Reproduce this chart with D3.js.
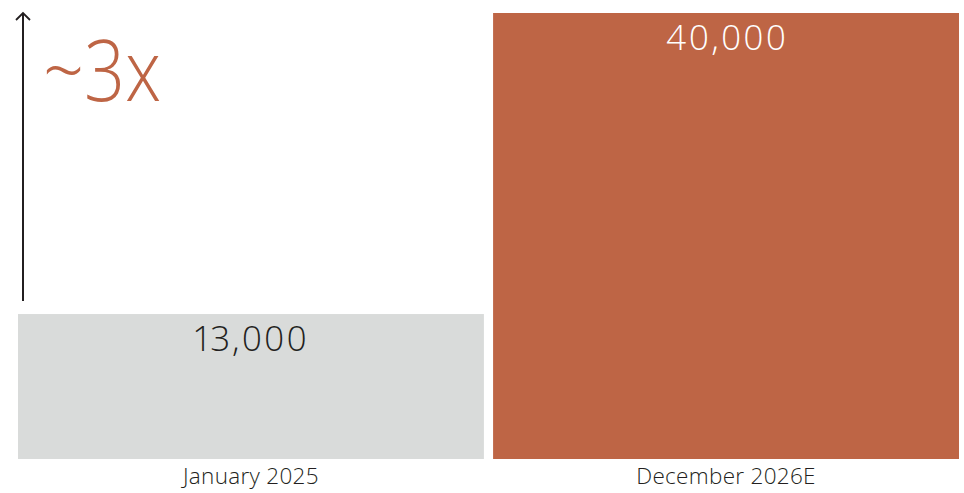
<!DOCTYPE html>
<html>
<head>
<meta charset="utf-8">
<script src="https://cdn.jsdelivr.net/npm/d3@7"></script>
<style>
  html, body { margin: 0; padding: 0; background: #fff; }
  svg { display: block; font-family: "Open Sans", sans-serif; }
</style>
</head>
<body>
<svg id="chart" width="964" height="493"></svg>
<script>
// Installed base: today vs. end-of-2026 estimate
const categories = ["January 2025", "December 2026E"];
const values = [13000, 40000];
const valueLabels = ["13,000", "40,000"];
const barColors = ["#D9DBDA", "#BE6545"];
const labelColors = ["#231F20", "#FFFFFF"];
const growthLabel = "~3x";

const svg = d3.select("#chart");
const margin = { top: 13, right: 5, bottom: 34, left: 18 };
const width = 964, height = 493;

const x = d3.scaleBand()
  .domain(categories)
  .range([margin.left, width - margin.right])
  .paddingInner(0.0193)
  .paddingOuter(0);

const y = d3.scaleLinear()
  .domain([0, 40000])
  .range([height - margin.bottom, margin.top]);

// bars
svg.selectAll("rect.bar")
  .data(values)
  .join("rect")
  .attr("class", "bar")
  .attr("x", (d, i) => x(categories[i]))
  .attr("y", d => y(d))
  .attr("width", x.bandwidth())
  .attr("height", d => y(0) - y(d))
  .attr("fill", (d, i) => barColors[i]);

// value labels inside the top of each bar
svg.selectAll("text.value")
  .data(values)
  .join("text")
  .attr("class", "value")
  .attr("x", (d, i) => x(categories[i]) + x.bandwidth() / 2 + 1)
  .attr("y", d => y(d) + 36.5)
  .attr("text-anchor", "middle")
  .attr("font-size", 35)
  .attr("font-weight", 300)
  .attr("letter-spacing", 2.2)
  .style("font-variant-numeric", "proportional-nums")
  .attr("fill", (d, i) => labelColors[i])
  .text((d, i) => valueLabels[i]);

// category axis labels
svg.selectAll("text.cat")
  .data(categories)
  .join("text")
  .attr("class", "cat")
  .attr("x", d => x(d) + x.bandwidth() / 2)
  .attr("y", height - 9)
  .attr("text-anchor", "middle")
  .attr("font-size", 22.5)
  .attr("font-weight", 300)
  .attr("letter-spacing", 0.3)
  .attr("fill", "#231F20")
  .text(d => d);

// growth arrow
const arrowX = 23;
const arrowTop = y(40000);
const arrowBottom = y(values[0]) - 13;
svg.append("line")
  .attr("x1", arrowX).attr("x2", arrowX)
  .attr("y1", arrowTop).attr("y2", arrowBottom)
  .attr("stroke", "#231F20").attr("stroke-width", 2);
svg.append("path")
  .attr("d", `M${arrowX - 7},${arrowTop + 7} L${arrowX},${arrowTop} L${arrowX + 7},${arrowTop + 7}`)
  .attr("fill", "none")
  .attr("stroke", "#231F20")
  .attr("stroke-width", 1.8);

// growth multiple, set in a condensed width
svg.append("text")
  .attr("x", 43)
  .attr("y", 101)
  .attr("font-size", 84)
  .attr("font-weight", 300)
  .attr("textLength", 118)
  .attr("lengthAdjust", "spacingAndGlyphs")
  .attr("fill", "#BE6545")
  .text(growthLabel);
</script>
</body>
</html>
